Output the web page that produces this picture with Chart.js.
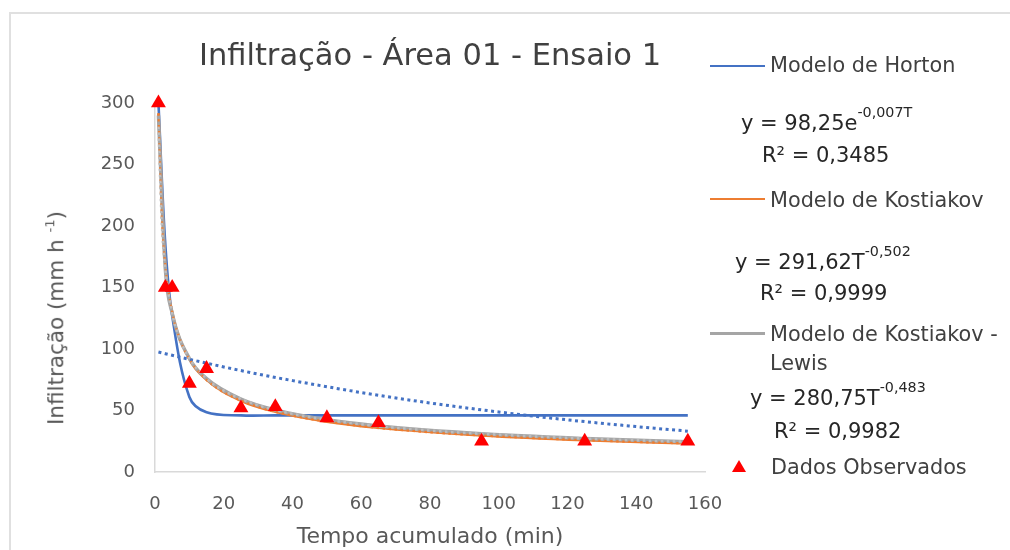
<!DOCTYPE html>
<html><head><meta charset="utf-8">
<script src="https://cdn.jsdelivr.net/npm/chart.js@4.4.1/dist/chart.umd.min.js"></script>
<style>
html,body{margin:0;padding:0;background:#fff;}
#wrap{position:relative;width:1010px;height:550px;overflow:hidden;background:#fff;font-family:"DejaVu Sans",sans-serif;}
#frame{position:absolute;left:9px;top:12px;width:1100px;height:700px;border-left:2px solid #e0e0e0;border-top:2px solid #e0e0e0;}
canvas{position:absolute;left:0;top:0;}
.t{position:absolute;white-space:nowrap;line-height:1;}
.leg{font-size:20.8px;color:#404040;}
.eq{font-size:21px;color:#262626;}
.sup{font-size:14.3px;position:relative;top:-12.5px;line-height:0;}
.sw{position:absolute;height:0;width:55px;left:710px;}
#ytitle{position:absolute;left:56px;top:318px;transform:translate(-50%,-50%) rotate(-90deg);font-size:21.5px;color:#595959;}
#ytitle .s{font-size:13px;position:relative;top:-9px;line-height:0;}
#tri{position:absolute;left:732px;top:459.5px;width:0;height:0;border-left:7px solid transparent;border-right:7px solid transparent;border-bottom:12px solid #ff0000;}
</style></head>
<body>
<div id="wrap">
  <div id="frame"></div>
  <canvas id="c" width="1010" height="550"></canvas>
  <div id="ytitle" class="t">Infiltração (mm h <span class="s">-1</span>)</div>

  <div class="sw" style="top:64.75px;border-top:2.5px solid #4472c4"></div>
  <div class="t leg" style="left:770px;top:55px">Modelo de Horton</div>
  <div class="t eq" style="left:741px;top:112.9px">y = 98,25e<span class="sup">-0,007T</span></div>
  <div class="t eq" style="left:762px;top:144.9px">R² = 0,3485</div>

  <div class="sw" style="top:198px;border-top:2.5px solid #ed7d31"></div>
  <div class="t leg" style="left:770px;top:189.7px">Modelo de Kostiakov</div>
  <div class="t eq" style="left:735px;top:251.6px">y = 291,62T<span class="sup">-0,502</span></div>
  <div class="t eq" style="left:760px;top:283.2px">R² = 0,9999</div>

  <div class="sw" style="top:331.8px;border-top:3px solid #a5a5a5"></div>
  <div class="t leg" style="left:770px;top:323.8px">Modelo de Kostiakov -</div>
  <div class="t leg" style="left:770px;top:353.3px">Lewis</div>
  <div class="t eq" style="left:750px;top:387.9px">y = 280,75T<span class="sup">-0,483</span></div>
  <div class="t eq" style="left:774px;top:420.7px">R² = 0,9982</div>

  <div id="tri"></div>
  <div class="t leg" style="left:771px;top:457px">Dados Observados</div>
</div>
<script>
// ---- Data ----
const tempoObs = [1, 3, 5, 10, 15, 25, 35, 50, 65, 95, 125, 155];
const infObs = [300, 150, 150, 72, 84, 52, 53, 44, 40, 25, 25, 25];

const hortonModelo = [300, 185, 127, 61, 48.5, 46, 46, 46, 46, 46, 46, 46];
const kostiakovModelo = [291.6, 168, 130, 91.8, 74.9, 57.9, 48.9, 40.9, 35.9, 29.7, 25.8, 23.2];
const kostLewisModelo = [290, 165.2, 129.1, 92.3, 75.9, 59.3, 50.4, 42.4, 37.4, 31.1, 27.3, 24.6];

const tempoTend = [1, 2, 3, 5, 7, 10, 15, 20, 30, 40, 60, 80, 100, 120, 140, 155];
const tendHorton = [97.6, 96.9, 96.2, 94.9, 93.5, 91.6, 88.5, 85.4, 79.6, 74.3, 64.6, 56.1, 48.8, 42.4, 36.9, 33.2];
const tendKostiakov = [291.6, 205.9, 168, 130, 109.8, 91.8, 74.9, 64.8, 52.9, 45.8, 37.3, 32.3, 28.9, 26.4, 24.4, 23.2];
const tendKostLewis = [280.8, 200.9, 165.2, 129.1, 109.7, 92.3, 75.9, 66.1, 54.3, 47.3, 38.9, 33.8, 30.4, 27.8, 25.8, 24.6];

const xTicks = [0, 20, 40, 60, 80, 100, 120, 140, 160];
const yTicks = [0, 50, 100, 150, 200, 250, 300];

const titulo = 'Infiltração - Área 01 - Ensaio 1';
const tituloX = 'Tempo acumulado (min)';

function pts(xs, ys) { return xs.map((x, i) => ({x: x, y: ys[i]})); }

const lineBase = {showLine: true, pointRadius: 0, pointHoverRadius: 0, fill: false, cubicInterpolationMode: 'monotone', clip: false};

const datasets = [
  {label: 'Dados Observados', data: pts(tempoObs, infObs), showLine: false, pointStyle: 'triangle',
   pointRadius: 8.6, pointBackgroundColor: '#ff0000', pointBorderColor: '#ff0000', pointBorderWidth: 0, order: 0, clip: false},
  Object.assign({}, lineBase, {label: 'tend KL', data: pts(tempoTend, tendKostLewis), borderColor: '#bdbdbd', borderWidth: 2.5, borderDash: [2.5, 3.5], order: 1}),
  Object.assign({}, lineBase, {label: 'tend K', data: pts(tempoTend, tendKostiakov), borderColor: '#ed7d31', borderWidth: 2.2, borderDash: [2.5, 3.5], order: 2}),
  Object.assign({}, lineBase, {label: 'tend H', data: pts(tempoTend, tendHorton), borderColor: '#4472c4', borderWidth: 3, borderDash: [3, 3.5], order: 3}),
  Object.assign({}, lineBase, {label: 'Modelo de Kostiakov - Lewis', data: pts(tempoObs, kostLewisModelo), borderColor: '#a5a5a5', borderWidth: 3.5, order: 4}),
  Object.assign({}, lineBase, {label: 'Modelo de Kostiakov', data: pts(tempoObs, kostiakovModelo), borderColor: '#ed7d31', borderWidth: 2.5, order: 5}),
  Object.assign({}, lineBase, {label: 'Modelo de Horton', data: pts(tempoObs, hortonModelo), borderColor: '#4472c4', borderWidth: 2.6, order: 6,
   cubicInterpolationMode: 'default', tension: 0.35})
];

const FONT = '"DejaVu Sans", sans-serif';

new Chart(document.getElementById('c'), {
  type: 'scatter',
  data: {datasets: datasets},
  options: {
    responsive: false,
    animation: false,
    devicePixelRatio: 1,
    layout: {padding: {left: 0, right: 305, top: 0, bottom: 0}},
    plugins: {
      legend: {display: false},
      tooltip: {enabled: false},
      title: {
        display: true, text: titulo, fullSize: false, color: '#404040',
        font: {family: FONT, size: 30.5, weight: 'normal'},
        padding: {top: 38.7, bottom: 27.7}
      }
    },
    scales: {
      x: {
        type: 'linear', position: 'bottom',
        min: xTicks[0], max: xTicks[xTicks.length - 1],
        ticks: {stepSize: xTicks[1] - xTicks[0], color: '#595959', font: {family: FONT, size: 18}, padding: 22, maxRotation: 0},
        grid: {display: false, drawTicks: false},
        border: {display: true, color: '#d9d9d9', width: 1.5},
        title: {display: true, text: tituloX, color: '#595959', font: {family: FONT, size: 22}, padding: {top: 0, bottom: 0}},
        afterFit: s => { s.height = 78; }
      },
      y: {
        type: 'linear',
        min: yTicks[0], max: yTicks[yTicks.length - 1],
        ticks: {stepSize: yTicks[1] - yTicks[0], color: '#595959', font: {family: FONT, size: 18}, padding: 20},
        grid: {display: false, drawTicks: false},
        border: {display: true, color: '#d9d9d9', width: 1.5},
        afterFit: s => { s.width = 155; }
      }
    }
  }
});
</script>
</body></html>
